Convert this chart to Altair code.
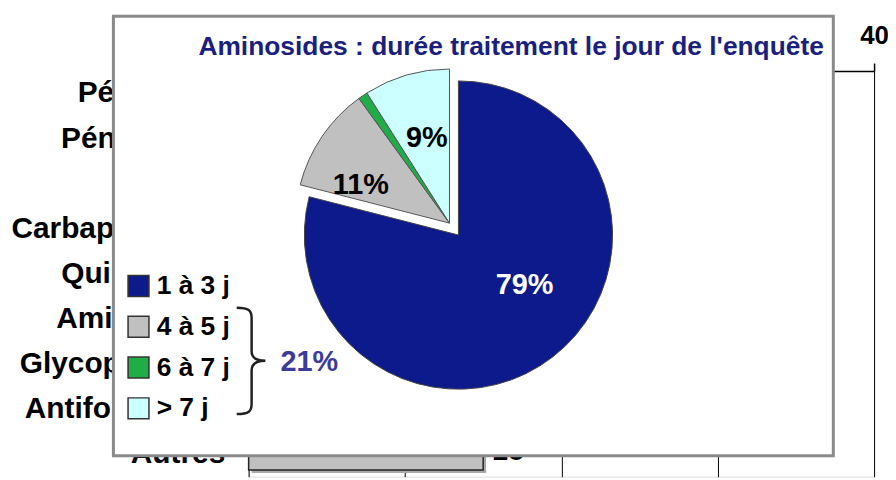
import altair as alt
import pandas as pd

# ---- background bar chart (mostly hidden behind the pie panel) ----
bar_categories = ["Pénicilline", "Pénicillines", "C3G", "Carbapénèmes", "Quinolones",
                  "Aminosides", "Glycopeptides", "Antifongiques", "Autres"]
bar_values = [30, 24, 20, 8, 14, 27, 10, 6, 15]
x_ticks = [0, 10, 20, 30, 40]

# ---- pie panel ----
pie_title = "Aminosides : durée traitement le jour de l'enquête"
pie_categories = ["1 à 3 j", "4 à 5 j", "6 à 7 j", "> 7 j"]
pie_values = [79, 11, 1, 9]
pie_colors = ["#0c1a8c", "#c0c0c0", "#20ad48", "#ccffff"]
group_label = "21%"

FONT = "Liberation Sans"

bars = pd.DataFrame({"cat": bar_categories, "value": bar_values})
pie = pd.DataFrame({"cat": pie_categories, "value": pie_values})
pie["end"] = pie["value"].cumsum()
pie["start"] = pie["end"] - pie["value"]
pie["mid"] = (pie["start"] + pie["end"]) / 2
pie["label"] = pie["value"].astype(str) + "%"

theta_scale = alt.Scale(domain=[0, 100], range=[0, 6.283185307179586])
color_enc = alt.Color(
    "cat:N",
    scale=alt.Scale(domain=pie_categories, range=pie_colors),
    legend=alt.Legend(
        title=None, orient="none", legendX=-124, legendY=203,
        symbolType="square", symbolSize=441, symbolStrokeColor="#333333",
        symbolStrokeWidth=1.5, symbolOpacity=1,
        labelFontSize=26.5, labelFontWeight="bold", labelColor="black", labelFont=FONT,
        rowPadding=13, labelOffset=5, padding=0,
    ),
)

y_enc = alt.Y(
    "cat:N", sort=bar_categories,
    scale=alt.Scale(domain=bar_categories, paddingInner=0.3, paddingOuter=0.15),
    axis=alt.Axis(title=None, labelFontSize=30, labelFontWeight="bold", labelColor="black",
                  labelFont=FONT, labelLimit=400, ticks=False, domain=False,
                  labelPadding=24, zindex=0),
)
x_enc = alt.X(
    "value:Q", scale=alt.Scale(domain=[0, 40]),
    axis=alt.Axis(orient="top", values=x_ticks, title=None, labelFontSize=26,
                  labelFontWeight="bold", labelColor="black", labelFont=FONT,
                  labelFlush=False, tickColor="black", tickSize=8, tickWidth=1.5,
                  domainColor="black", domainWidth=1.5, grid=True, gridColor="black",
                  gridWidth=1, gridOpacity=1, labelPadding=15, zindex=0),
)

base_bar = alt.Chart(bars)
shadow = base_bar.mark_bar(color="#a9a9a9", xOffset=3, yOffset=3).encode(x=x_enc, y=y_enc)
bar = base_bar.mark_bar(fill="#c0c0c0", stroke="#222222", strokeWidth=1.5).encode(x=x_enc, y=y_enc)
bar_txt = base_bar.mark_text(align="left", dx=9, dy=-3, fontSize=29, fontWeight="bold",
                             font=FONT, color="black").encode(x=x_enc, y=y_enc, text="value:Q")

one = pd.DataFrame({"t": [pie_title]})
box = alt.Chart(one).mark_rect(fill="white", stroke="#8a8a8a", strokeWidth=3).encode(
    x=alt.value(-136), x2=alt.value(588), y=alt.value(-55), y2=alt.value(387))
title = alt.Chart(one).mark_text(fontSize=26.5, fontWeight="bold", font=FONT, color="#1b1f7e").encode(
    x=alt.value(264), y=alt.value(-24), text="t:N")

big = pie[pie["cat"] == pie_categories[0]]
small = pie[pie["cat"] != pie_categories[0]]

arc_big = alt.Chart(big).mark_arc(radius=155, stroke="#444444", strokeWidth=1).encode(
    theta=alt.Theta("start:Q", stack=None, scale=theta_scale), theta2="end:Q",
    color=color_enc, x=alt.value(211), y=alt.value(165))
arc_small = alt.Chart(small).mark_arc(radius=155, stroke="#555555", strokeWidth=1).encode(
    theta=alt.Theta("start:Q", stack=None, scale=theta_scale), theta2="end:Q",
    color=color_enc, x=alt.value(202), y=alt.value(153))

lbl_big = alt.Chart(big).mark_text(radius=84, dx=15, dy=-16, fontSize=29, fontWeight="bold",
                                   font=FONT, color="white").encode(
    theta=alt.Theta("mid:Q", stack=None, scale=theta_scale), text="label:N",
    x=alt.value(211), y=alt.value(165))
lbl_gray = alt.Chart(small[small["cat"] == pie_categories[1]]).mark_text(
    radius=97, dx=-9, dy=16, fontSize=29, fontWeight="bold", font=FONT, color="black").encode(
    theta=alt.Theta("mid:Q", stack=None, scale=theta_scale), text="label:N",
    x=alt.value(202), y=alt.value(153))
lbl_cyan = alt.Chart(small[small["cat"] == pie_categories[3]]).mark_text(
    radius=89, dx=2, fontSize=29, fontWeight="bold", font=FONT, color="black").encode(
    theta=alt.Theta("mid:Q", stack=None, scale=theta_scale), text="label:N",
    x=alt.value(202), y=alt.value(153))

brace_path = ("M-0.28,-1 C-0.05,-1 0,-0.95 0,-0.8 L0,-0.18 C0,-0.05 0.1,0 0.26,0 "
              "C0.1,0 0,0.05 0,0.18 L0,0.8 C0,0.95 -0.05,1 -0.28,1")
grp = pd.DataFrame({"t": [group_label]})
brace = alt.Chart(grp).mark_point(shape=brace_path, size=107 * 107, filled=False,
                                  stroke="#222222", strokeWidth=2.5, opacity=1).encode(
    x=alt.value(3), y=alt.value(291.5))
grp_txt = alt.Chart(grp).mark_text(fontSize=29, fontWeight="bold", font=FONT, color="#3b3b99").encode(
    x=alt.value(61), y=alt.value(293), text="t:N")

chart = alt.layer(
    shadow, bar, bar_txt, box, title, arc_big, arc_small, lbl_big, lbl_gray, lbl_cyan, brace, grp_txt
).properties(
    width=629, height=408,
    autosize=alt.AutoSizeParams(type="none"),
    padding={"left": 242, "top": 62, "right": 14, "bottom": 2},
).configure_view(stroke="black", strokeWidth=1.5).configure(background="white")

chart.save("out.html", embed_options={"renderer": "svg", "actions": False})
